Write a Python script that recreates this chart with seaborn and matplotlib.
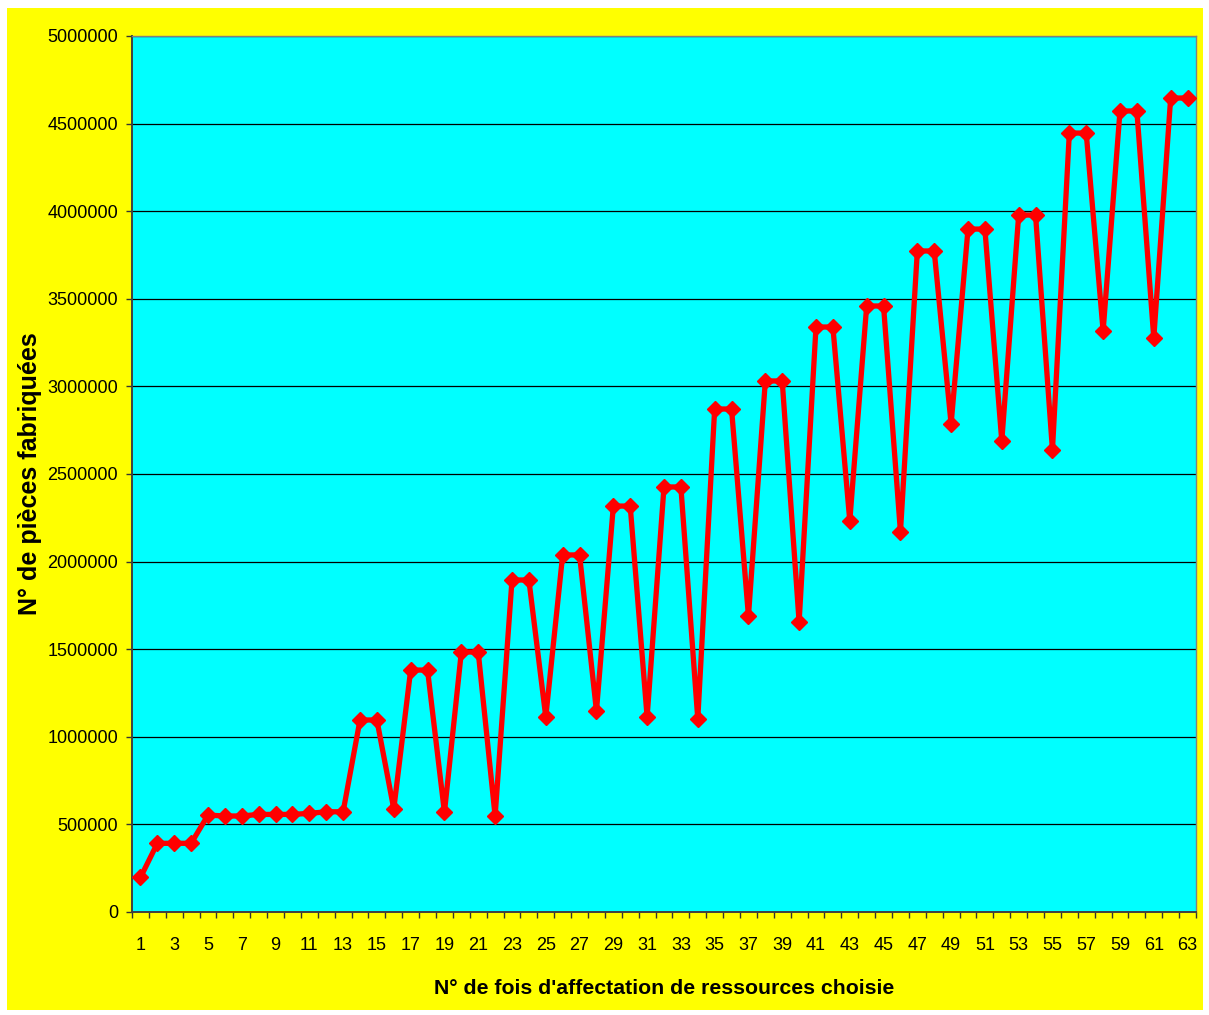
import numpy as np
import pandas as pd
import matplotlib
matplotlib.use("Agg")
import matplotlib.pyplot as plt
import seaborn as sns
from matplotlib.patches import Rectangle
from matplotlib.ticker import FixedLocator, FuncFormatter

# données
affectation = list(range(1, 64))
pieces = [
    197000, 392000, 392000, 392000, 553000, 548000, 548000, 557000, 557000, 557000,
    563000, 572000, 572000, 1096000, 1096000, 588000, 1381000, 1381000, 569000, 1484000,
    1484000, 548000, 1895000, 1895000, 1113000, 2038000, 2038000, 1147000, 2317000, 2317000,
    1113000, 2426000, 2426000, 1102000, 2871000, 2871000, 1689000, 3031000, 3031000, 1655000,
    3339000, 3339000, 2232000, 3459000, 3459000, 2169000, 3773000, 3773000, 2785000, 3898000,
    3898000, 2688000, 3978000, 3978000, 2637000, 4446000, 4446000, 3316000, 4572000, 4572000,
    3276000, 4646000, 4646000,
]
y_ticks = list(range(0, 5000001, 500000))
x_labels = [str(i) for i in range(1, 64, 2)]

df = pd.DataFrame({"affectation": affectation, "pieces": pieces})

sns.set_style("white")
plt.rcParams['font.family'] = ['Liberation Sans', 'DejaVu Sans']
for k in ["text.color", "axes.labelcolor", "xtick.color", "ytick.color"]:
    plt.rcParams[k] = "black"

W, H = 1209, 1015
fig = plt.figure(figsize=(W / 100, H / 100), dpi=100, facecolor="white")
# fond jaune
fig.patches.append(Rectangle((7 / W, 1 - 1010 / H), (1203 - 7) / W, (1010 - 8) / H,
                             transform=fig.transFigure, facecolor="#FFFF00",
                             edgecolor="none", zorder=-5))

ax = fig.add_axes([132 / W, 1 - 912 / H, (1196 - 132) / W, (912 - 36) / H])
ax.set_facecolor("#00FFFF")

sns.lineplot(data=df, x="affectation", y="pieces", ax=ax, color="#FF0000",
             linewidth=3.8, marker="D", markersize=8, markeredgecolor="#FF0000",
             markeredgewidth=1, zorder=3)

ax.set_xlim(0.5, 63.5)
ax.set_ylim(0, 5000000)

# grille horizontale
ax.set_yticks(y_ticks)
ax.yaxis.set_major_formatter(FuncFormatter(lambda v, p: f"{int(v)}"))
ax.grid(axis="y", color="black", linewidth=0.9, zorder=1)
ax.grid(axis="x", visible=False)
ax.set_axisbelow(True)

# axe x : graduations entre catégories, étiquettes une sur deux
ax.xaxis.set_major_locator(FixedLocator(np.arange(0.5, 64, 1)))
ax.xaxis.set_major_formatter(FuncFormatter(lambda v, p: ""))
ax.xaxis.set_minor_locator(FixedLocator(np.arange(1, 64, 2)))
ax.set_xticklabels(x_labels, minor=True)
ax.tick_params(axis="x", which="major", direction="out", length=4, width=1,
               color="#333333", bottom=True)
ax.tick_params(axis="x", which="minor", length=0, pad=18, labelsize=13,
               bottom=True, labelcolor="black")
ax.tick_params(axis="y", which="major", direction="out", length=4, width=1,
               color="#333333", left=True, pad=6, labelsize=13,
               labelcolor="black")

for s in ["left", "bottom"]:
    ax.spines[s].set_color("#404040")
    ax.spines[s].set_linewidth(1.4)
for s in ["top", "right"]:
    ax.spines[s].set_color("#808080")
    ax.spines[s].set_linewidth(1)

ax.set_xlabel("N° de fois d'affectation de ressources choisie", fontsize=15.3,
              fontweight="bold", labelpad=18, color="black")
ax.set_ylabel("N° de pièces fabriquées", fontsize=18, fontweight="bold",
              labelpad=4, color="black")

fig.savefig("out.png", dpi=100, facecolor="white")
